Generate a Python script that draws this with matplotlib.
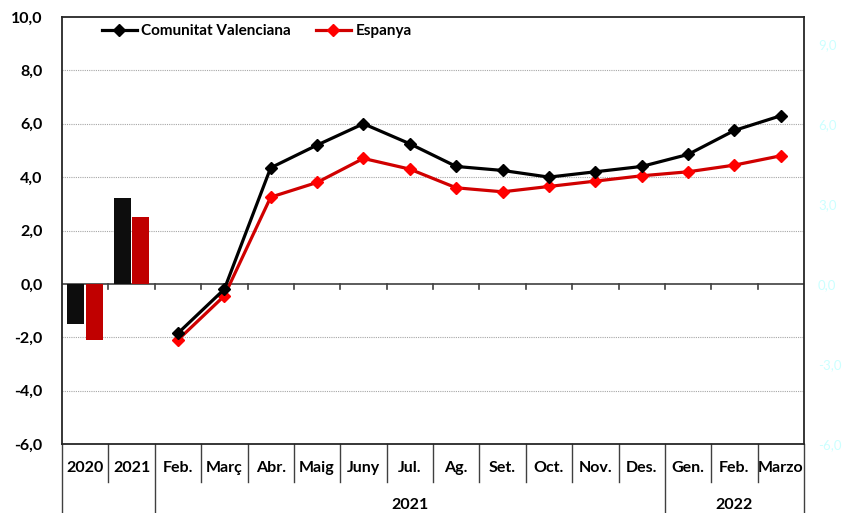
import matplotlib.pyplot as plt
import matplotlib.transforms as mtransforms
import numpy as np

plt.rcParams['font.family'] = ['Lato', 'DejaVu Sans']

# annual bars
years = ["2020", "2021"]
cv_years = [-1.5, 3.2]
es_years = [-2.1, 2.5]

# monthly lines (Feb. 2021 .. Marzo 2022)
months = ["Feb.", "Març", "Abr.", "Maig", "Juny", "Jul.", "Ag.", "Set.",
          "Oct.", "Nov.", "Des.", "Gen.", "Feb.", "Marzo"]
cv_months = [-1.85, -0.2, 4.35, 5.2, 6.0, 5.25, 4.4, 4.25, 4.0, 4.2, 4.4, 4.85, 5.75, 6.3]
es_months = [-2.1, -0.45, 3.25, 3.8, 4.7, 4.3, 3.6, 3.45, 3.65, 3.85, 4.05, 4.2, 4.45, 4.8]

labels = years + months
n = len(labels)

fig = plt.figure(figsize=(8.44, 5.13), dpi=100)
ax = fig.add_axes([62 / 844, 1 - 444 / 513, 742 / 844, 427 / 513])

ax.set_xlim(0, n)
ax.set_ylim(-6, 10)

# grid
for v in np.arange(-4, 10, 2):
    if v != 0:
        ax.axhline(v, color='#a6a6a6', lw=0.8, ls=(0, (1, 1)), zorder=0)

# bars
xb = np.arange(len(years)) + 0.5
ax.bar(xb - 0.2, cv_years, width=0.37, color='#0d0d0d', zorder=2)
ax.bar(xb + 0.2, es_years, width=0.37, color='#c00000', zorder=2)

# lines
xm = np.arange(len(months)) + len(years) + 0.5
ax.plot(xm, cv_months, color='black', lw=2.3, marker='D', ms=6,
        label='Comunitat Valenciana', zorder=4)
ax.plot(xm, es_months, color='#d00000', lw=2.3, marker='D', ms=6,
        mfc='#ff0000', mec='#ff0000', label='Espanya', zorder=3)

# horizontal axis at zero with tick marks
ax.axhline(0, color='#404040', lw=1.2, zorder=1)
for b in range(1, n):
    ax.plot([b, b], [0, -0.2], color='#404040', lw=1.2, zorder=1)

for s in ax.spines.values():
    s.set_color('#262626')
    s.set_linewidth(1.3)

fs = 11.5
ax.set_xticks([])
ax.set_yticks(np.arange(-6, 11, 2))
ax.set_yticklabels([f"{v:.1f}".replace('.', ',') for v in np.arange(-6, 11, 2)],
                   fontsize=fs, fontweight='bold')
ax.tick_params(axis='y', length=0, pad=14)

# category labels below
trans = mtransforms.blended_transform_factory(ax.transData, ax.transAxes)
for i, lab in enumerate(labels):
    ax.text(i + 0.5, -0.056, lab, transform=trans, ha='center', va='center',
            fontsize=fs, fontweight='bold')
for b in range(0, n + 1):
    long_sep = b in (0, len(years), len(years) + 11, n)
    ax.plot([b, b], [0, -0.165 if long_sep else -0.089], transform=trans,
            color='#404040', lw=1.0, clip_on=False)
ax.text(len(years) + 11 / 2, -0.143, "2021", transform=trans, ha='center',
        va='center', fontsize=fs, fontweight='bold')
ax.text(len(years) + 11 + 3 / 2, -0.143, "2022", transform=trans, ha='center',
        va='center', fontsize=fs, fontweight='bold')

# secondary axis
ax2 = ax.twinx()
ax2.set_ylim(-6, 10)
ax2.set_yticks(np.arange(-6, 10, 3))
ax2.set_yticklabels([f"{v:.1f}".replace('.', ',') for v in np.arange(-6, 10, 3)],
                    fontsize=9.5, color='#ccffff')
ax2.tick_params(axis='y', length=0, pad=10)
for s in ax2.spines.values():
    s.set_visible(False)

ax.legend(loc='upper left', bbox_to_anchor=(0.035, 1.015), ncol=2, frameon=False,
          prop={'weight': 'bold', 'size': 11}, handlelength=2.3,
          columnspacing=1.6, handletextpad=0.3)

fig.savefig('out.png', dpi=100)
